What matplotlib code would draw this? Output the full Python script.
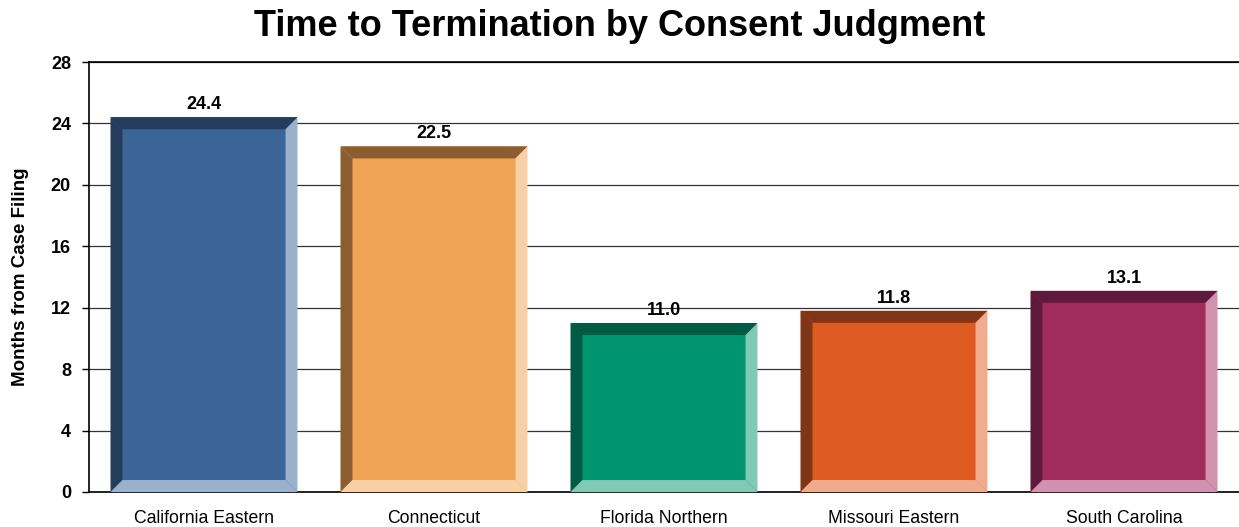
import numpy as np
import matplotlib as mpl
import matplotlib.pyplot as plt
from matplotlib.patches import Polygon

mpl.rcParams['font.family'] = ['Liberation Sans', 'DejaVu Sans']

# Data
districts = ["California Eastern", "Connecticut", "Florida Northern",
             "Missouri Eastern", "South Carolina"]
months = [24.4, 22.5, 11.0, 11.8, 13.1]

# face / dark bevel / light bevel
faceColors = ["#3A6596", "#EFA354", "#009470", "#DD5A20", "#A02C5E"]
darkColors = ["#243D5C", "#8C5E2F", "#005A44", "#7F3516", "#5F1A3B"]
lightColors = ["#9BB1CB", "#F8D0A6", "#7FC9B5", "#EFAC8E", "#D092AE"]

fig = plt.figure(figsize=(12.39, 5.27), dpi=100)
ax = fig.add_axes([89/1239, 35/527, 1 - 89/1239, (492 - 62)/527])

width = 0.813
bx = 0.052   # bevel size in x (data units)
by = 0.78    # bevel size in y (data units)

x = np.arange(len(districts))
bars = ax.bar(x, months, width=width, color=faceColors, zorder=2)

# Bevel edges for each bar
for rect, dk, lt in zip(bars, darkColors, lightColors):
    x0 = rect.get_x()
    x1 = x0 + rect.get_width()
    h = rect.get_height()
    left = [(x0, 0), (x0 + bx, by), (x0 + bx, h - by), (x0, h)]
    top = [(x0, h), (x0 + bx, h - by), (x1 - bx, h - by), (x1, h)]
    right = [(x1, h), (x1 - bx, h - by), (x1 - bx, by), (x1, 0)]
    bottom = [(x0, 0), (x1, 0), (x1 - bx, by), (x0 + bx, by)]
    for pts, c in [(left, dk), (top, dk), (right, lt), (bottom, lt)]:
        ax.add_patch(Polygon(pts, closed=True, facecolor=c, edgecolor="none",
                             zorder=3))

# Value labels
for xi, v in zip(x, months):
    ax.annotate("%.1f" % v, (xi, v), xytext=(0, 3), textcoords="offset points",
                ha="center", va="bottom", fontsize=13, fontweight="bold",
                zorder=4)

ax.set_xlim(-0.5, len(districts) - 0.5)
ax.set_ylim(0, 28)
ax.set_yticks(np.arange(0, 29, 4))
ax.set_yticklabels([str(t) for t in range(0, 29, 4)], fontsize=13,
                   fontweight="bold")
ax.set_xticks(x)
ax.set_xticklabels(districts, fontsize=12.7)
ax.tick_params(axis="x", length=0, pad=13)
ax.tick_params(axis="y", length=5, width=1, pad=8)

ax.yaxis.grid(True, color="#333333", linewidth=0.9, zorder=0)
ax.set_axisbelow(True)
for s in ["left", "top", "bottom"]:
    ax.spines[s].set_linewidth(1.2)
    ax.spines[s].set_color("black")
ax.spines["right"].set_visible(False)

ax.set_ylabel("Months from Case Filing", fontsize=13.5, fontweight="bold",
              labelpad=16)
fig.suptitle("Time to Termination by Consent Judgment", fontsize=26,
             fontweight="bold", x=0.5, y=0.982, va="top")

fig.savefig("out.png", dpi=100)
